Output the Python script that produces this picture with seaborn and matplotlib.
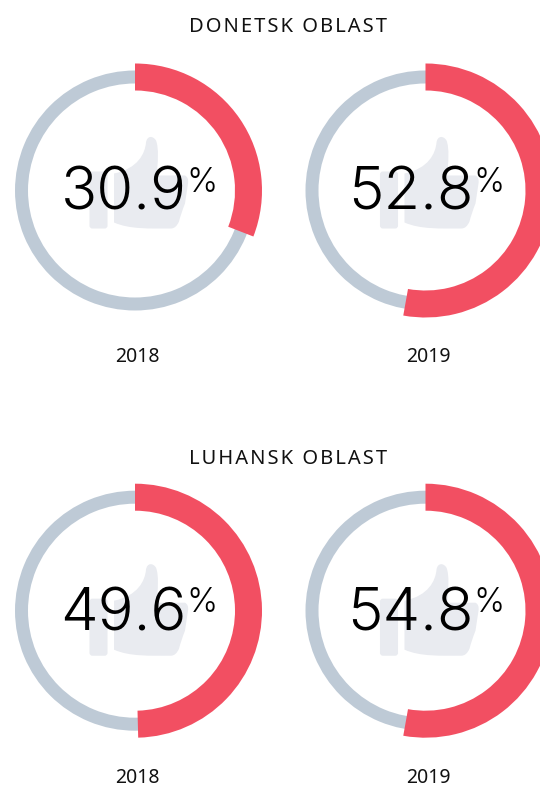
import matplotlib
matplotlib.use("Agg")
import matplotlib.pyplot as plt
import seaborn as sns
from matplotlib.patches import FancyBboxPatch, PathPatch
from matplotlib.path import Path

regions = ["DONETSK OBLAST", "LUHANSK OBLAST"]
years = ["2018", "2019"]
donetsk = [30.9, 52.8]
luhansk = [49.6, 54.8]
# the 54.8 ring in the picture is drawn as long as the 52.8 one
donetsk_arc = [30.9, 52.8]
luhansk_arc = [49.6, 52.8]

W, H = 540, 787
RED = "#F24F62"
GREY = "#BECAD6"
THUMB = "#E9EBF0"

sns.set_theme(style="white")
plt.rcParams["font.family"] = ["Open Sans", "DejaVu Sans"]

# pixel centres of the rings
col_x = [135, 425.5]
row_y = [190.5, 610.7]
title_y = [32, 464]
thumb_dy = [7, 0]
# numbers are not quite centred the same way in both columns
num_right = [51.5, 48.5]


def draw_thumb(ax, dy):
    ax.add_patch(FancyBboxPatch((-44.5, -44 + dy), 16, 55, boxstyle="round,pad=0,rounding_size=2",
                                fc=THUMB, ec=THUMB, lw=1.5, zorder=3))
    verts = [(-21, 10), (3, 15), (10, 30), (11, 41), (12, 48), (18, 48), (21, 43),
             (24, 36), (23, 20), (21.5, 8), (50, 8), (54, 6), (53, 0),
             (50, -20), (46, -30), (44, -38), (41, -45), (36, -45),
             (15, -45), (-5, -46), (-21, -39), (-21, 10)]
    verts = [(x, y + dy) for x, y in verts]
    codes = [Path.MOVETO] + [Path.CURVE4] * 9 + [Path.LINETO] + [Path.CURVE3] * 2 \
        + [Path.LINETO] + [Path.CURVE3] * 4 + [Path.CURVE4] * 3 + [Path.LINETO]
    ax.add_patch(PathPatch(Path(verts, codes), fc=THUMB, ec="none", zorder=3))


def donut(cx, cy, value, arc, right, dy):
    ax = fig.add_axes([(cx - 135) / W, 1 - (cy + 135) / H, 270 / W, 270 / H])
    ax.pie([1], radius=120, colors=[GREY], startangle=90,
           wedgeprops={"width": 13, "linewidth": 0})
    ax.pie([arc, 100 - arc], radius=127, colors=[RED, "none"], startangle=90,
           counterclock=False, wedgeprops={"width": 27, "linewidth": 0})
    ax.set_xlim(-135, 135)
    ax.set_ylim(-135, 135)
    draw_thumb(ax, dy)
    ax.text(right, -19.5, f"{value}", ha="right", va="baseline", fontsize=43,
            family="Inter", fontweight=300, color="black", zorder=5)
    ax.text(right - 0.5, -1, "%", ha="left", va="baseline", fontsize=24,
            family="Inter", fontweight=300, color="black", zorder=5)


fig = plt.figure(figsize=(W / 100, H / 100), dpi=100)

for r, (values, arcs) in enumerate([(donetsk, donetsk_arc), (luhansk, luhansk_arc)]):
    # hair spaces give the tracked-out look of the title
    fig.text(288 / W, 1 - title_y[r] / H, "\u200a".join(regions[r]), ha="center", va="baseline",
             fontsize=14.5, color="#111111", family=["Noto Sans", "DejaVu Sans"])
    for c, value in enumerate(values):
        donut(col_x[c], row_y[r], value, arcs[c], num_right[c], thumb_dy[r])
        fig.text((col_x[c] + 2.5) / W, 1 - (row_y[r] + 172) / H, years[c], ha="center",
                 va="baseline", fontsize=14, color="#111111", family="Noto Sans")

fig.savefig("out.png", dpi=100)
